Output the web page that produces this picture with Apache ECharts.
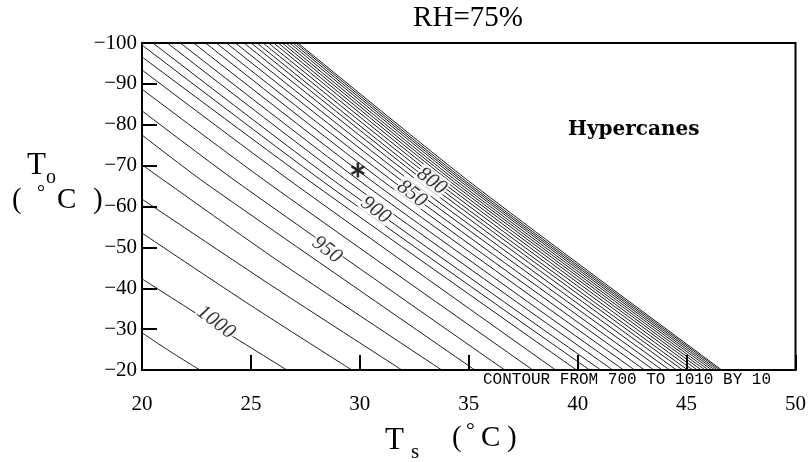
<!DOCTYPE html>
<html>
<head>
<meta charset="utf-8">
<script src="https://cdn.jsdelivr.net/npm/echarts@6/dist/echarts.min.js"></script>
<style>
html,body{margin:0;padding:0;background:#fff;}
#chart{width:809px;height:462px;}
</style>
</head>
<body>
<div id="chart"></div>
<script>
// Contour levels (hPa)
const contourLevels = [700,710,720,730,740,750,760,770,780,790,800,810,820,830,840,850,860,870,880,890,900,910,920,930,940,950,960,970,980,990,1000,1010];
// entry point of each contour (top edge or left edge)
const startTs = [27.16,27.06,26.93,26.78,26.61,26.44,26.25,26.05,25.81,25.56,25.28,25.01,24.68,24.29,23.88,23.41,22.92,22.37,21.76,21.16,20.50,20,20,20,20,20,20,20,20,20,20,20];
const startTo = [-100,-100,-100,-100,-100,-100,-100,-100,-100,-100,-100,-100,-100,-100,-100,-100,-100,-100,-100,-100,-100,-99.5,-96.6,-93.4,-88.7,-83.4,-77.5,-70.2,-61.8,-53.5,-42.3,-29.1];
// a point read along the middle of each contour
const midTs = [35.05,34.91,34.79,34.66,34.50,34.34,34.17,33.98,33.77,33.54,33.28,33.03,32.73,32.38,32.00,31.57,31.11,30.61,30.06,29.50,28.89,28.34,27.75,26.88,25.73,24.36,22.84,26.19,25.96,24.82,23.33,21.33];
const midTo = [-66,-66,-66,-66,-66,-66,-66,-66,-66,-66,-66,-66,-66,-66,-66,-66,-66,-66,-66,-66,-66,-66,-66,-66,-66,-66,-66,-46.9,-40.6,-36.4,-31.0,-24.4];
// exit point of each contour on the bottom edge (To = -20)
const endTs = [46.61,46.52,46.41,46.29,46.16,46.01,45.85,45.68,45.49,45.28,45.05,44.82,44.54,44.22,43.88,43.49,43.07,42.61,42.11,41.61,41.06,40.55,39.95,38.99,37.94,36.65,35.28,33.76,31.93,29.63,26.65,22.66];
const endTo = -20;

// contour labels
const labelText = ['800','850','900','950','1000'];
const labelTs = [33.30,32.39,30.73,28.49,23.39];
const labelTo = [-66.2,-63.1,-59.1,-49.4,-31.7];

// the star marker
const starPoint = [29.91,-68.9];

const xTicks = [20,25,30,35,40,45,50];
const yTicks = [-100,-90,-80,-70,-60,-50,-40,-30,-20];

const chart = echarts.init(document.getElementById('chart'), null, {renderer:'canvas'});
const serif = 'Liberation Serif';

const series = contourLevels.map((lv, i) => ({
  type:'line', name:String(lv), silent:true, animation:false,
  showSymbol:false, symbol:'none', smooth:0.25,
  lineStyle:{color:'#000', width:0.9},
  data:[[startTs[i],startTo[i]],[midTs[i],midTo[i]],[endTs[i],endTo]],
  z:2
}));

series.push({
  type:'scatter', silent:true, animation:false, symbol:'circle', symbolSize:0,
  itemStyle:{color:'rgba(0,0,0,0)'},
  data: labelText.map((t,i)=>[labelTs[i],labelTo[i],t]),
  label:{show:true, position:'inside', formatter:p=>p.value[2], rotate:-37,
    fontFamily:serif, fontStyle:'italic', fontSize:21, color:'#000',
    backgroundColor:'#fff', padding:[0,1]},
  labelLayout:{hideOverlap:false},
  z:5
});

const ast = 'path://M-1.8,-10L1.8,-10L1.8,10L-1.8,10Z M7.76,6.56L-9.56,-3.44L-7.76,-6.56L9.56,3.44Z M9.56,-3.44L-7.76,6.56L-9.56,3.44L7.76,-6.56Z';
series.push({
  type:'scatter', silent:true, animation:false, symbol:ast, symbolSize:[14,15],
  itemStyle:{color:'#000'}, data:[starPoint], z:6
});

const minus = v => v < 0 ? '\u2212' + Math.abs(v) : String(v);

chart.setOption({
  animation:false,
  backgroundColor:'#fff',
  grid:{left:142, right:13, top:43, bottom:92, show:true, borderColor:'#000', borderWidth:2, backgroundColor:'transparent'},
  xAxis:{type:'value', min:xTicks[0], max:xTicks[xTicks.length-1], interval:5,
    axisLine:{show:true, lineStyle:{color:'#000', width:2}},
    axisTick:{show:true, inside:true, length:15, lineStyle:{color:'#000', width:2}},
    axisLabel:{color:'#000', fontFamily:serif, fontSize:21, margin:24},
    splitLine:{show:false}},
  yAxis:{type:'value', min:yTicks[0], max:yTicks[yTicks.length-1], interval:10, inverse:true,
    axisLine:{show:true, lineStyle:{color:'#000', width:2}},
    axisTick:{show:true, inside:true, length:15, lineStyle:{color:'#000', width:2}},
    axisLabel:{color:'#000', fontFamily:serif, fontSize:21, margin:5, formatter:minus},
    splitLine:{show:false}},
  graphic:[
    {type:'text', x:468, y:4, style:{text:'RH=75%', fontFamily:serif, fontSize:29, fill:'#000', textAlign:'center'}},
    {type:'text', x:568, y:120, style:{text:'Hypercanes', fontFamily:'DejaVu Serif', fontWeight:'bold', fontSize:20, fill:'#000'}},
    {type:'text', x:483, y:372, style:{text:'CONTOUR FROM 700 TO 1010 BY 10', fontFamily:'Liberation Mono', fontSize:16, fill:'#000'}},
    {type:'text', x:27, y:150, style:{text:'T', fontFamily:serif, fontSize:31, fill:'#000'}},
    {type:'text', x:46, y:168, style:{text:'o', fontFamily:serif, fontSize:20, fill:'#000'}},
    {type:'text', x:12, y:186, style:{text:'(', fontFamily:serif, fontSize:29, fill:'#000'}},
    {type:'text', x:37, y:184, style:{text:'\u00b0', fontFamily:serif, fontSize:20, fill:'#000'}},
    {type:'text', x:57, y:186, style:{text:'C', fontFamily:serif, fontSize:29, fill:'#000'}},
    {type:'text', x:93, y:186, style:{text:')', fontFamily:serif, fontSize:29, fill:'#000'}},
    {type:'text', x:385, y:425, style:{text:'T', fontFamily:serif, fontSize:31, fill:'#000'}},
    {type:'text', x:411, y:442, style:{text:'s', fontFamily:serif, fontSize:21, fill:'#000'}},
    {type:'text', x:452, y:424, style:{text:'(', fontFamily:serif, fontSize:29, fill:'#000'}},
    {type:'text', x:466, y:420, style:{text:'\u00b0', fontFamily:serif, fontSize:22, fill:'#000'}},
    {type:'text', x:481, y:424, style:{text:'C', fontFamily:serif, fontSize:29, fill:'#000'}},
    {type:'text', x:507, y:424, style:{text:')', fontFamily:serif, fontSize:29, fill:'#000'}}
  ],
  series:series
});
</script>
</body>
</html>
